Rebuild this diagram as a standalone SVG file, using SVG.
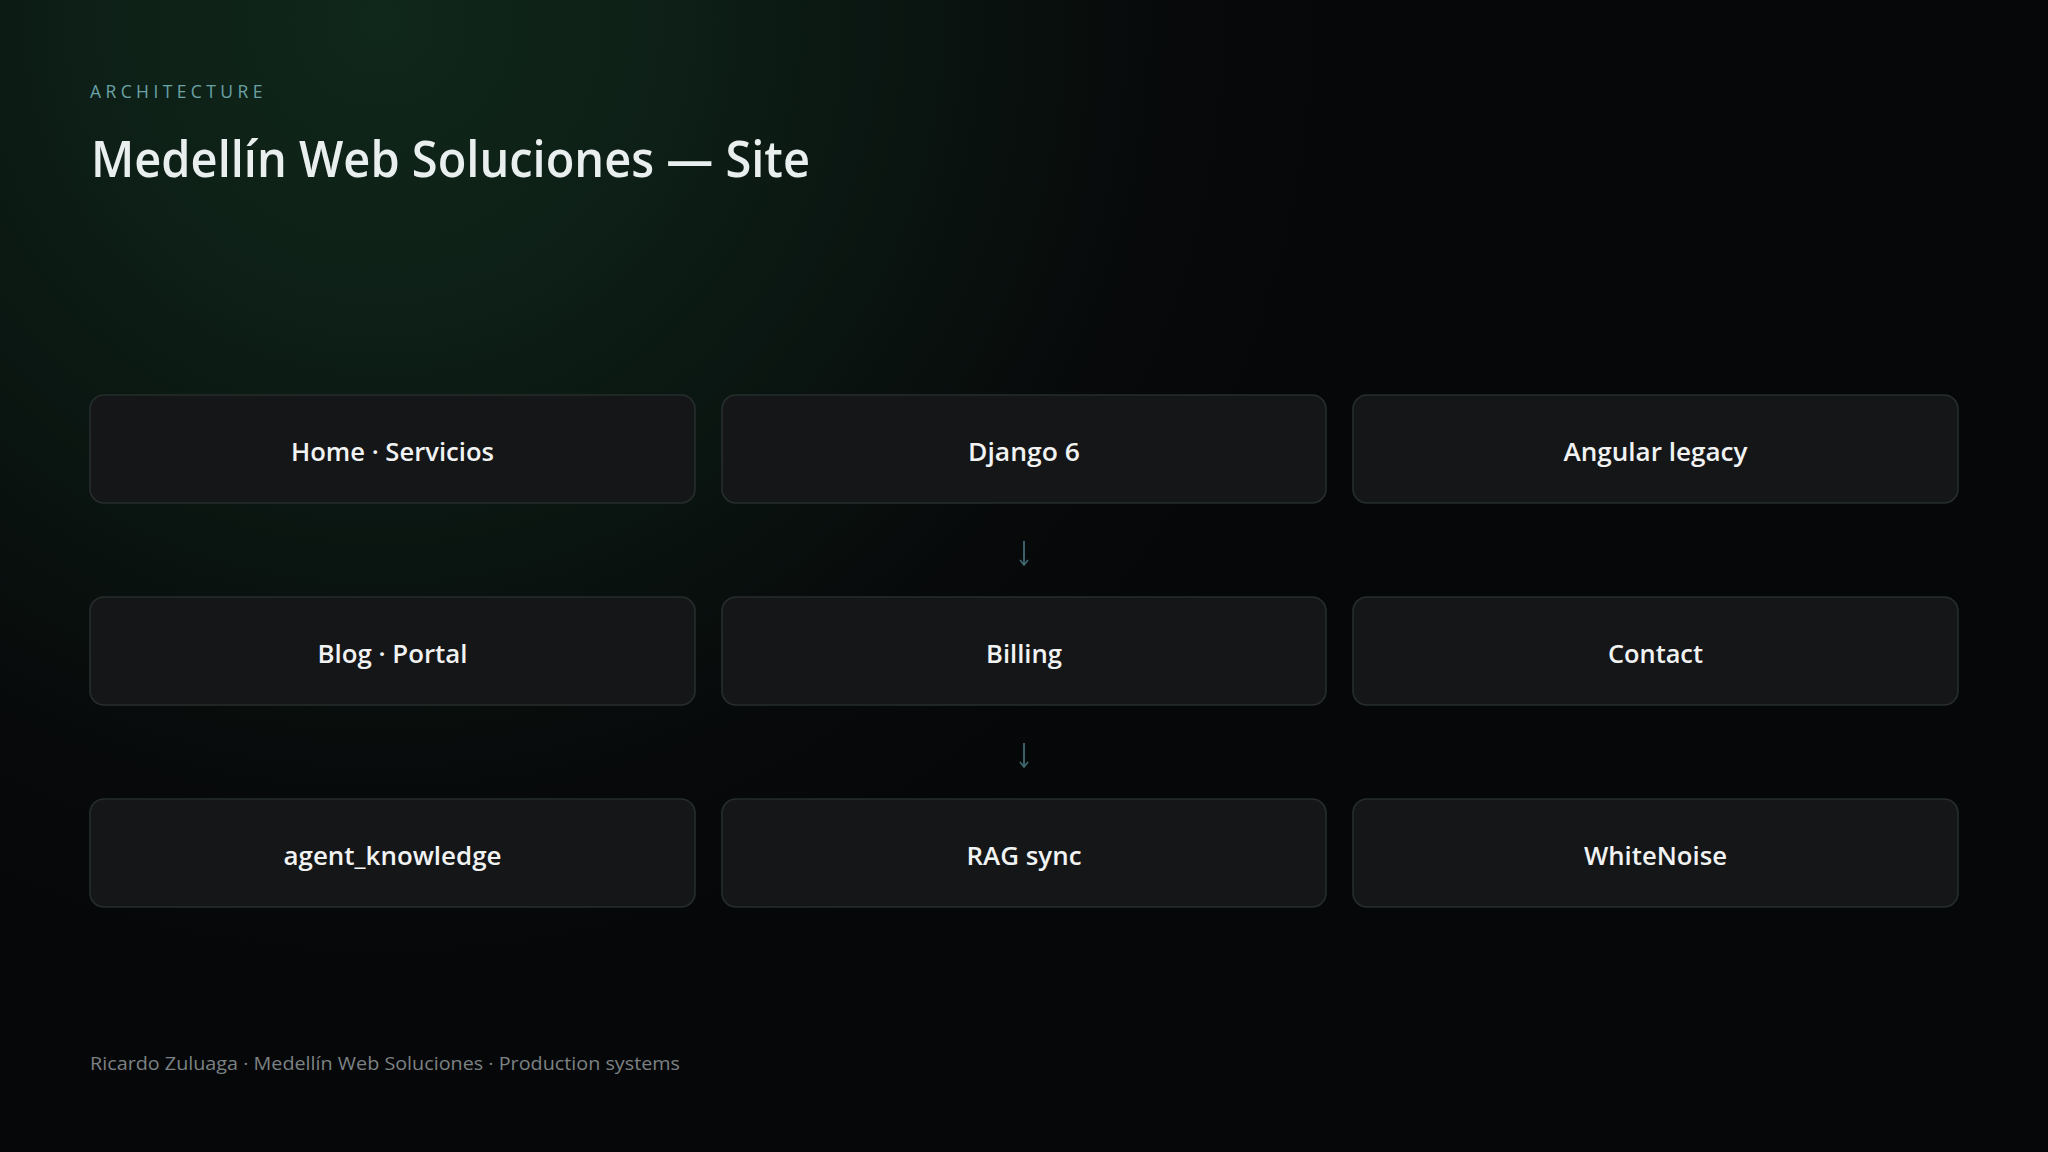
<svg xmlns="http://www.w3.org/2000/svg" width="2048" height="1152" viewBox="0 0 2048 1152">
<defs>
<radialGradient id="glow" cx="380" cy="20" r="1000" gradientUnits="userSpaceOnUse">
<stop offset="0" stop-color="#10271b"/>
<stop offset="0.3" stop-color="#0d1f16"/>
<stop offset="0.55" stop-color="#0a1410"/>
<stop offset="0.8" stop-color="#07090a"/>
<stop offset="1" stop-color="#060708"/>
</radialGradient>
<marker id="ah" viewBox="0 0 10 10" refX="8" refY="5" markerWidth="10" markerHeight="10" markerUnits="userSpaceOnUse" orient="auto">
<path d="M3,1 L8,5 L3,9" fill="none" stroke="#3f6c74" stroke-width="1.6"/>
</marker>
</defs>
<style>
.node rect{fill:#151618;stroke:#262d2d;stroke-width:1.6}
.node text{font-family:"Open Sans","Noto Sans","DejaVu Sans",sans-serif;font-size:26px;font-weight:600;fill:#f1f3f3;text-anchor:middle}
.conn line{stroke:#3f6c74;stroke-width:1.8}
</style>
<rect width="2048" height="1152" fill="#060708"/>
<rect width="2048" height="1152" fill="url(#glow)"/>
<text x="90" y="97.5" font-family="'Open Sans','Noto Sans',sans-serif" font-size="17.5" fill="#6aa2a6" letter-spacing="3.6" textLength="176" lengthAdjust="spacing">ARCHITECTURE</text>
<text x="91" y="177" font-family="'Open Sans','Noto Sans',sans-serif" font-size="50" font-weight="600" fill="#e9eeee" textLength="719" lengthAdjust="spacingAndGlyphs">Medellín Web Soluciones — Site</text>
<g id="n-home" class="node"><rect x="90" y="395" width="605" height="108" rx="14"/><text x="392.5" y="461" textLength="203" lengthAdjust="spacingAndGlyphs">Home · Servicios</text></g>
<g id="n-django" class="node"><rect x="722" y="395" width="604" height="108" rx="14"/><text x="1024" y="461" textLength="112" lengthAdjust="spacingAndGlyphs">Django 6</text></g>
<g id="n-angular" class="node"><rect x="1353" y="395" width="605" height="108" rx="14"/><text x="1655.5" y="461" textLength="184" lengthAdjust="spacingAndGlyphs">Angular legacy</text></g>
<g id="n-blog" class="node"><rect x="90" y="597" width="605" height="108" rx="14"/><text x="392.5" y="663" textLength="150" lengthAdjust="spacingAndGlyphs">Blog · Portal</text></g>
<g id="n-billing" class="node"><rect x="722" y="597" width="604" height="108" rx="14"/><text x="1024" y="663" textLength="76" lengthAdjust="spacingAndGlyphs">Billing</text></g>
<g id="n-contact" class="node"><rect x="1353" y="597" width="605" height="108" rx="14"/><text x="1655.5" y="663" textLength="95" lengthAdjust="spacingAndGlyphs">Contact</text></g>
<g id="n-agent" class="node"><rect x="90" y="799" width="605" height="108" rx="14"/><text x="392.5" y="865" textLength="218" lengthAdjust="spacingAndGlyphs">agent_knowledge</text></g>
<g id="n-rag" class="node"><rect x="722" y="799" width="604" height="108" rx="14"/><text x="1024" y="865" textLength="115" lengthAdjust="spacingAndGlyphs">RAG sync</text></g>
<g id="n-white" class="node"><rect x="1353" y="799" width="605" height="108" rx="14"/><text x="1655.5" y="865" textLength="143" lengthAdjust="spacingAndGlyphs">WhiteNoise</text></g>
<g id="connectors" class="conn">
<line x1="1024" y1="541" x2="1024" y2="565" marker-end="url(#ah)"/>
<line x1="1024" y1="743" x2="1024" y2="767" marker-end="url(#ah)"/>
</g>
<text x="90" y="1070" font-family="'Open Sans','Noto Sans',sans-serif" font-size="19" fill="#7c8284" textLength="590" lengthAdjust="spacingAndGlyphs">Ricardo Zuluaga · Medellín Web Soluciones · Production systems</text>
</svg>
